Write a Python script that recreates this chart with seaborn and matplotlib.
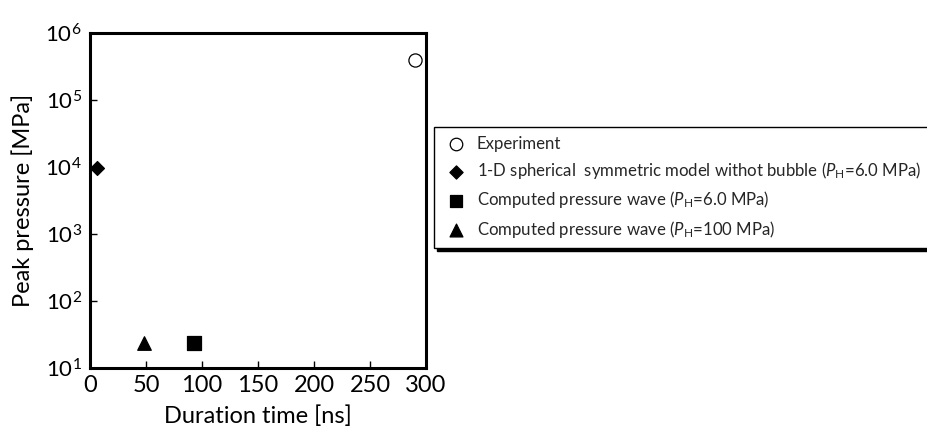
import matplotlib
matplotlib.use("Agg")
import matplotlib.pyplot as plt
import seaborn as sns

sns.set_theme(style="white")
plt.rcParams["font.family"] = ["Lato", "DejaVu Sans"]
plt.rcParams["mathtext.fontset"] = "custom"
plt.rcParams["mathtext.rm"] = "Lato"
plt.rcParams["mathtext.it"] = "Lato:italic"

# Peak pressure vs. duration for each case
labels = [
    "Experiment",
    "1-D spherical  symmetric model withot bubble ($\\it{P}_{\\rm H}$=6.0 MPa)",
    "Computed pressure wave ($\\it{P}_{\\rm H}$=6.0 MPa)",
    "Computed pressure wave ($\\it{P}_{\\rm H}$=100 MPa)",
]
duration_ns = [290, 6, 92.5, 48]
peak_mpa = [4.0e5, 9.5e3, 23.5, 23.5]
markers = ["o", "D", "s", "^"]
facecolors = ["white", "black", "black", "black"]
sizes = [90, 50, 95, 95]

fig = plt.figure(figsize=(9.28, 4.28), dpi=100)
ax = fig.add_axes([0.097, 0.140, 0.362, 0.783])

for lab, x, y, m, fc, s in zip(labels, duration_ns, peak_mpa, markers, facecolors, sizes):
    sns.scatterplot(x=[x], y=[y], marker=m, s=s, color=fc, edgecolor="black",
                    linewidth=0.9, label=lab, ax=ax, legend=False, clip_on=False)

ax.set_yscale("log")
ax.set_xlim(0, 300)
ax.set_ylim(10, 1e6)
ax.set_xticks([0, 50, 100, 150, 200, 250, 300])
ax.set_yticks([1e1, 1e2, 1e3, 1e4, 1e5, 1e6])
ax.minorticks_off()
ax.tick_params(direction="in", length=5, width=1.0, colors="black",
               left=True, bottom=True)
ax.tick_params(axis="x", labelsize=17, pad=5)
ax.tick_params(axis="y", labelsize=16, pad=6)
for sp in ax.spines.values():
    sp.set_linewidth(2.2)
    sp.set_color("black")
ax.set_xlabel("Duration time [ns]", fontsize=17, color="black", labelpad=7)
ax.set_ylabel("Peak pressure [MPa]", fontsize=17, color="black", labelpad=8)

handles, _ = ax.get_legend_handles_labels()
leg = fig.legend(handles, labels, loc="upper left", bbox_to_anchor=(0.4677, 0.703),
                 fontsize=12.1, frameon=True, fancybox=False, edgecolor="black",
                 shadow={"color": "black", "alpha": 1.0}, borderpad=0.5,
                 labelspacing=0.5, handlelength=1.6, handletextpad=0.45,
                 borderaxespad=0, markerscale=0.95)
leg.get_frame().set_linewidth(1.0)

fig.savefig("out.png", dpi=100, facecolor="white")
